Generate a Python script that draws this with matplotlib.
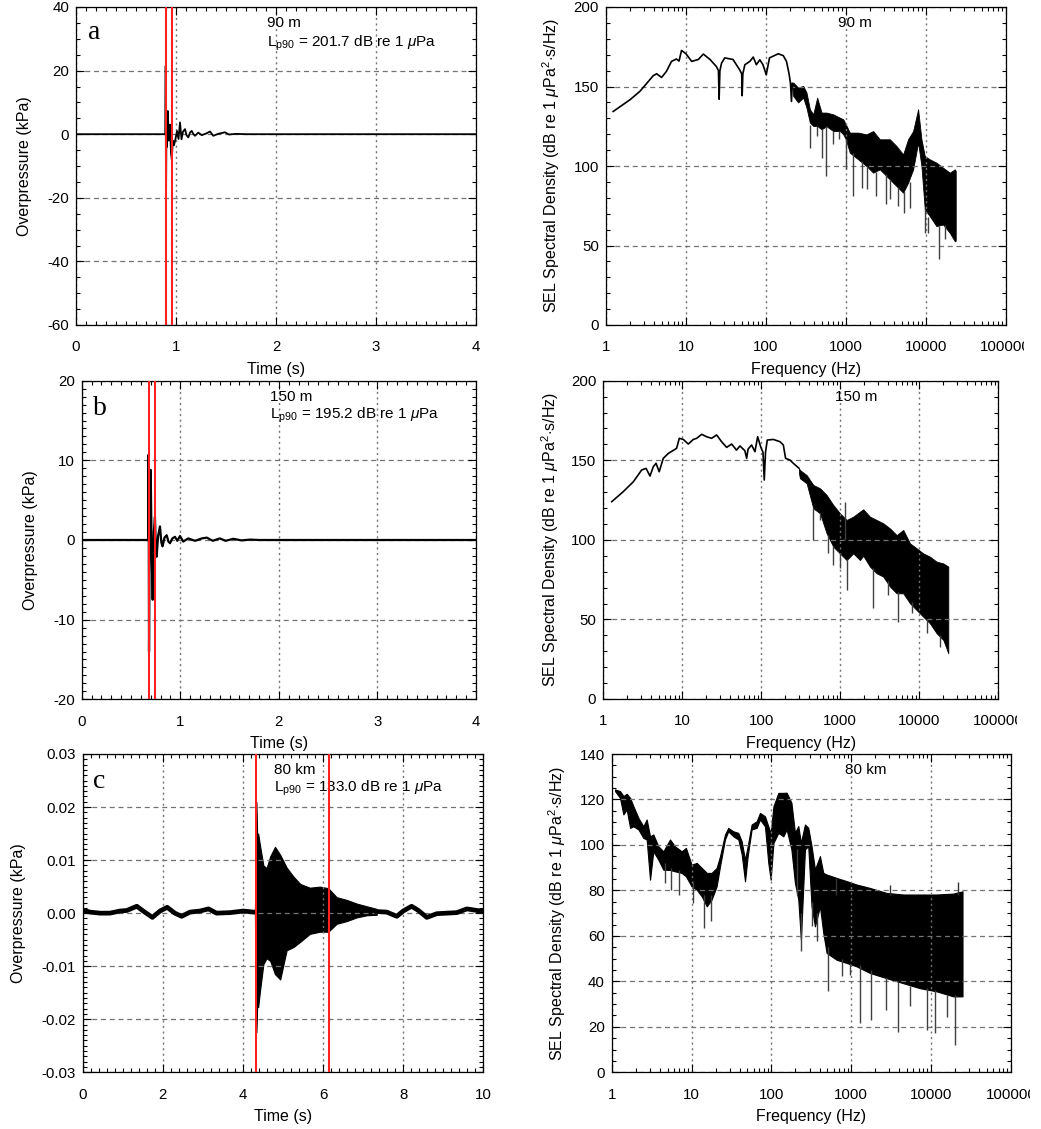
import numpy as np
import matplotlib
matplotlib.use("Agg")
import matplotlib.pyplot as plt
from matplotlib.ticker import MultipleLocator, FixedLocator, LogLocator, NullFormatter, FuncFormatter, FormatStrFormatter
from matplotlib.transforms import Bbox

plt.rcParams['font.family'] = ['Liberation Sans', 'DejaVu Sans']
plt.rcParams['font.size'] = 11
plt.rcParams['axes.unicode_minus'] = False
plt.rcParams['mathtext.fontset'] = 'custom'
plt.rcParams['mathtext.rm'] = 'Liberation Sans'
plt.rcParams['mathtext.it'] = 'Liberation Sans:italic'
plt.rcParams['mathtext.bf'] = 'Liberation Sans:bold'

# ---------------- data: waveforms ----------------
# (a) 90 m, overpressure in kPa
wa_t = [0.0, 0.893, 0.897, 0.900, 0.905, 0.910, 0.918, 0.928, 0.940, 0.950, 0.958, 0.968,
        0.980, 0.995, 1.010, 1.025, 1.040, 1.055, 1.070, 1.090, 1.105, 1.123, 1.140, 1.157,
        1.175, 1.190, 1.223, 1.257, 1.300, 1.340, 1.373, 1.420, 1.490, 1.530, 1.600, 1.700, 4.0]
wa_p = [0.0, 0.0, 21.5, -23.0, 5.0, -4.0, 7.3, -2.0, 3.0, -6.0, -7.9, -2.0,
        -3.5, -1.5, 1.0, -1.5, 3.7, -1.6, 0.8, 1.6, -0.3, -1.0, 0.5, 1.05,
        0.0, -0.5, 0.5, -0.3, 0.2, 0.84, -0.5, 0.1, 0.6, -0.1, 0.1, 0.0, 0.0]
wa_red = [0.897, 0.957]

# (b) 150 m
wb_t = [0.0, 0.675, 0.679, 0.683, 0.690, 0.700, 0.710, 0.720, 0.732, 0.743, 0.752, 0.760,
        0.775, 0.794, 0.808, 0.820, 0.840, 0.862, 0.880, 0.896, 0.920, 0.946, 0.970, 0.997,
        1.030, 1.080, 1.150, 1.220, 1.268, 1.330, 1.400, 1.460, 1.538, 1.620, 1.710, 1.800, 4.0]
wb_p = [0.0, 0.0, 10.7, -14.0, 3.0, 8.8, -2.0, -7.5, 1.0, 2.9, -1.0, -2.1,
        0.5, 1.7, -0.3, -0.8, 0.3, 0.6, -0.2, -0.4, 0.2, 0.4, -0.1, 0.5,
        -0.2, 0.2, -0.1, 0.2, 0.3, -0.1, 0.2, -0.1, 0.15, -0.05, 0.05, 0.0, 0.0]
wb_red = [0.68, 0.743]

# (c) 80 km : quiet baseline before / after, burst envelope
wc_t1 = [0.0, 0.18, 0.43, 0.68, 0.93, 1.10, 1.35, 1.51, 1.74, 1.93, 2.11, 2.30, 2.47,
         2.68, 2.93, 3.14, 3.34, 3.68, 4.01, 4.26, 4.30]
wc_p1 = [0.0006, 0.0002, 0.0, 0.0, 0.0004, 0.0005, 0.0013, 0.0004, -0.0008, 0.0004, 0.0011,
         0.0, -0.0006, 0.0002, 0.0004, 0.0008, 0.0, 0.0001, 0.0004, 0.0002, 0.0002]
wc_tb = [4.30, 4.33, 4.345, 4.36, 4.38, 4.42, 4.51, 4.59, 4.68, 4.80, 4.93, 5.09, 5.26,
         5.43, 5.67, 5.92, 6.13, 6.34, 6.59, 6.84, 7.09, 7.34]
wc_up = [0.0005, 0.021, 0.018, 0.013, 0.015, 0.013, 0.009, 0.0085, 0.0107, 0.0125, 0.011,
         0.0086, 0.0069, 0.0055, 0.0048, 0.0050, 0.0047, 0.0030, 0.0025, 0.0018, 0.0013, 0.0008]
wc_lo = [-0.0005, -0.0225, -0.020, -0.016, -0.0177, -0.0150, -0.0096, -0.0085, -0.0090, -0.0115,
         -0.0125, -0.0070, -0.0064, -0.0054, -0.0039, -0.0035, -0.0035, -0.0020, -0.0015,
         -0.0008, -0.0004, -0.0003]
wc_t2 = [7.34, 7.59, 7.84, 8.00, 8.21, 8.38, 8.59, 8.84, 9.09, 9.34, 9.59, 9.76, 10.0]
wc_p2 = [0.0003, 0.0002, -0.0006, 0.0004, 0.0013, 0.0005, -0.0008, -0.0001, 0.0, 0.0001,
         0.0008, 0.0006, 0.0003]
wc_red = [4.32, 6.14]

# ---------------- data: spectra (dB re 1 uPa^2 s/Hz) ----------------
# (a) smooth low-frequency part
sa_f = [1.23, 2.0, 2.66, 3.9, 4.3, 4.96, 5.7, 6.6, 7.6, 8.2, 8.8, 10, 11.8, 14.3, 16.5, 20,
        24, 25.5, 26, 26.6, 27.9, 30.6, 38.8, 47, 49.8, 50.5, 51.5, 54.6, 63, 69.5, 76, 84,
        92, 101, 111, 143, 165, 181, 195, 203, 209, 214]
sa_v = [134.3, 141.7, 147, 156.8, 158, 155.7, 159.5, 165.8, 167.3, 166, 172.7, 170.6, 165.8,
        167, 170.4, 167, 162.6, 160, 142, 160, 164.7, 168, 167, 160.5, 158, 144.2, 158, 163.7,
        165.8, 168.5, 163.7, 166.8, 163.7, 157.4, 168, 170.6, 169.4, 165.8, 158, 152, 140.6, 152]
# (a) noisy part: upper / lower envelope
sa_ef = [214, 220, 253, 293, 322, 355, 391, 438, 497, 573, 695, 842, 927, 1000, 1122, 1426,
         1811, 2197, 2661, 3548, 4300, 5210, 6010, 6950, 8020, 8830, 9720, 11220, 13590,
         16480, 19950, 23070, 23700]
sa_eu = [152, 152.5, 149.3, 150.4, 146.2, 135.7, 132.5, 143, 133.6, 133.6, 132.5, 130.4,
         129.4, 126.2, 121, 121, 119.9, 122, 116.8, 116.8, 112.6, 107.3, 116.8, 122, 135.7,
         116.8, 106.3, 104.2, 102.1, 98.9, 95.8, 97.9, 97]
sa_el = [150, 144, 140, 143, 136.7, 127.3, 125.2, 125.2, 123.1, 125, 122, 122, 120, 116.8,
         108.4, 104.2, 100, 95.8, 97.9, 91.6, 87.4, 83.2, 89.5, 97.9, 114.7, 100, 72.7, 68.5,
         62.2, 63.2, 58, 52.7, 53]
sa_sf = [361, 438, 497, 573, 695, 810, 1000, 1236, 1572, 1849, 2371, 3162, 3548, 4506, 5309,
         6310, 9720, 10690, 14550, 17290]
sa_sb = [111.5, 118.9, 105.2, 93.7, 113.6, 116.8, 97.9, 81, 86.3, 85.3, 81, 75.8, 79, 74.8,
         70.6, 73.7, 58, 58, 41.2, 53.8]
sa_st = [126, 125, 123, 125, 122, 122, 117, 108, 103, 100, 96, 95, 92, 87, 84, 90, 73, 68,
         62, 63]

# (b)
sb_f = [1.28, 1.79, 2.4, 3.06, 3.48, 3.9, 4.3, 4.65, 5.1, 5.74, 6.65, 8.47, 9.16, 10.3, 11.9,
        13.8, 15.2, 17.6, 20.3, 23.5, 27.2, 31.4, 36.4, 42.1, 48.6, 53.7, 62, 65.2, 68, 75.4,
        83.1, 89.9, 98.2, 105, 109, 113, 119, 142, 172, 190, 203, 231, 254, 300]
sb_v = [124, 130.3, 136.5, 143.9, 144.9, 140.1, 146, 148.1, 142.8, 151.2, 154.3, 157.5, 163.8,
        163.1, 160.2, 163.1, 163.8, 166.3, 164.8, 163.8, 165.9, 161.7, 158.1, 160.2, 156.4, 159,
        156, 151.2, 157, 159.6, 155.4, 164.8, 158.5, 155, 137.6, 155, 162.7, 163.1, 161.7,
        159.6, 151.2, 150.1, 148.1, 145]
sb_ef = [300, 308, 375, 455, 553, 671, 815, 990, 1202, 1459, 1773, 1953, 2371, 2882, 3498,
         4253, 5164, 6266, 7621, 9247, 11220, 13650, 16560, 20140, 23290]
sb_eu = [145, 143.9, 140.7, 134.5, 132.4, 128.2, 121.9, 116.7, 112.5, 114.6, 117.7, 119.2,
         114.6, 112.5, 110.4, 107.2, 103, 106.2, 97.8, 94.7, 91.5, 89.4, 86.3, 85.2, 83.2]
sb_el = [142, 138.7, 135.5, 119.8, 116.7, 104.1, 95.7, 91.5, 87.3, 91.5, 87.3, 90, 83.2, 79,
         76.9, 70.6, 66.4, 66.4, 60.1, 55.9, 51.7, 47.5, 41.3, 37.1, 28.7]
sb_sf = [455, 553, 705, 800, 990, 1228, 2565, 4047, 5420, 8000, 12390, 18250]
sb_sb = [99.9, 112.5, 91.5, 84.2, 82.1, 68.5, 57, 65.4, 48.6, 53.8, 41.3, 32.9]
sb_st = [120, 117, 103, 96, 92, 88, 82, 74, 67, 61, 50, 40]
sb_uf = [1160]
sb_uv = [124]

# (c) whole spectrum is noisy
sc_f = [1.1, 1.27, 1.4, 1.54, 1.7, 1.87, 2.16, 2.49, 2.74, 3.02, 3.32, 3.84, 4.43, 5.37, 6.2,
        7.52, 8.5, 10, 11.6, 13.4, 15.5, 17.8, 20.6, 22.7, 26.2, 28.8, 33.3, 38.5, 42.4, 46.7,
        50.4, 56.5, 65.3, 71.9, 83, 91.4, 97.8, 106, 122, 141, 155, 178, 197, 217, 234, 263,
        289, 318, 351, 405, 446, 491, 655, 873, 1164, 1710, 2768, 4470, 7230, 11700, 18900,
        24700]
sc_u = [124.4, 123.7, 121.5, 122.5, 120.7, 117, 111.9, 108.2, 111.2, 103.8, 104.6, 99.4, 97.2,
        102.4, 99.4, 97.2, 98.7, 91.3, 92.1, 89.9, 87.7, 87.7, 89.9, 95, 104.6, 107.5, 106,
        105.3, 101.6, 93.5, 99.4, 109, 110.4, 114.1, 112.6, 108.2, 105.3, 117, 122.9, 122.9,
        123, 118.6, 105.4, 108.3, 101, 109, 107.6, 99.5, 89.2, 95.1, 87.7, 87, 85.5, 84.1,
        82.6, 81.1, 78.9, 78.2, 78.2, 78.2, 78.6, 79.6]
sc_l = [123.7, 120.7, 113.4, 115.6, 107.5, 108.2, 106.8, 103.1, 102.4, 84.7, 97.2, 93.5, 89.1,
        89, 88.4, 87.7, 86.2, 81.8, 80.3, 77.4, 73, 75.9, 81.8, 90.6, 102.4, 106, 103.8,
        102.4, 96, 84, 95, 106.8, 107.5, 111.2, 108.2, 92.1, 84.7, 100.9, 105.3, 103.8, 106.8,
        98, 83.3, 76, 58.3, 98, 99.5, 73, 64.2, 73, 61.3, 52.5, 49.5, 48.1, 46.6, 43.7, 41.4,
        39.2, 37, 35.6, 33.4, 33.4]
sc_sf = [4.6, 5.6, 7.0, 10.4, 14.3, 17.5, 209, 234, 325, 370, 515, 755, 960, 1282, 1742, 2710,
         3863, 5400, 8750, 11120, 15600, 19800]
sc_sb = [83.3, 80.3, 78.1, 74.4, 63.4, 66.4, 78.2, 53.2, 64.2, 57.6, 35.6, 42.2, 42.9, 21.6,
         23.1, 27.5, 17.9, 29, 18.7, 17.2, 24.5, 12.1]
sc_st = [92, 90, 89, 84, 78, 78, 98, 70, 75, 70, 55, 50, 48, 47, 45, 42, 40, 38, 37, 36, 34,
         34]
sc_uf = [653, 3040, 21400]
sc_uv = [85.5, 82.6, 83.6]

dist_labels = ["90 m", "150 m", "80 km"]
lp90_values = ["201.7", "195.2", "133.0"]
panel_letters = ["a", "b", "c"]

# ---------------- figure ----------------
W, H = 1041, 1129
fig = plt.figure(figsize=(W / 100, H / 100), dpi=100)

def frac(l, r, t, b):
    return [l / W, 1 - b / H, (r - l) / W, (b - t) / H]

boxes_left = [frac(76, 476, 7, 325), frac(81.7, 476, 380.7, 699.3), frac(82.7, 483.3, 754, 1072.3)]
boxes_right = [frac(606, 1005.7, 7, 325), frac(603.3, 998.3, 380.7, 699), frac(611.7, 1011, 754, 1072.3)]

GRIDC = '0.45'
LABEL_FS = 11.5
TICK_FS = 10.8

def style(ax):
    ax.tick_params(which='both', direction='in', top=True, right=True, width=0.8,
                   labelsize=TICK_FS)
    ax.tick_params(which='major', length=6)
    ax.tick_params(which='minor', length=3)
    ax.tick_params(axis='x', which='major', pad=11)
    ax.tick_params(axis='y', which='major', pad=5)
    for s in ax.spines.values():
        s.set_linewidth(0.9)
    ax.grid(axis='x', which='major', ls=(0, (1.5, 2.5)), color=GRIDC, lw=1.0)
    ax.grid(axis='y', which='major', ls=(0, (4, 3)), color=GRIDC, lw=0.9)

def set_labels(ax, xl, yl, ylx):
    ax.set_xlabel(xl, fontsize=LABEL_FS)
    ax.set_ylabel(yl, fontsize=LABEL_FS)
    ax.xaxis.label.set_va('center')
    ax.yaxis.label.set_va('center')
    ax.xaxis.set_label_coords(0.5, -0.14)
    ax.yaxis.set_label_coords(ylx, 0.5)

ylab_left_x = [-0.1275, -0.129, -0.161]
ylab_right_x = [-0.138, -0.135, -0.136]
letter_pos = [(0.03, 0.92), (0.028, 0.914), (0.025, 0.913)]
lp_y = [0.887, 0.892, 0.892]
right_title_x = [0.58, 0.587, 0.584]

waves = [(wa_t, wa_p, wa_red), (wb_t, wb_p, wb_red)]
for i in range(3):
    ax = fig.add_axes(boxes_left[i])
    style(ax)
    if i < 2:
        t, p, red = waves[i]
        ax.plot(t, p, color='black', lw=1.3 if i == 0 else 1.6)
        ax.set_xlim(0, 4)
        ax.xaxis.set_major_locator(MultipleLocator(1))
        ax.xaxis.set_minor_locator(MultipleLocator(0.1))
        if i == 0:
            ax.set_ylim(-60, 40)
            ax.yaxis.set_major_locator(MultipleLocator(20))
            ax.yaxis.set_minor_locator(MultipleLocator(5))
        else:
            ax.set_ylim(-20, 20)
            ax.yaxis.set_major_locator(MultipleLocator(10))
            ax.yaxis.set_minor_locator(MultipleLocator(1))
        ax.yaxis.set_major_formatter(FormatStrFormatter('%d'))
    else:
        red = wc_red
        ax.plot(wc_t1, wc_p1, color='black', lw=3.4, solid_joinstyle='round')
        ax.plot(wc_t2, wc_p2, color='black', lw=3.4, solid_joinstyle='round')
        ax.fill_between(wc_tb, wc_lo, wc_up, color='black', lw=0.8)
        ax.set_xlim(0, 10)
        ax.set_ylim(-0.03, 0.03)
        ax.xaxis.set_major_locator(MultipleLocator(2))
        ax.xaxis.set_minor_locator(MultipleLocator(0.2))
        ax.yaxis.set_major_locator(MultipleLocator(0.01))
        ax.yaxis.set_minor_locator(MultipleLocator(0.001))
        ax.yaxis.set_major_formatter(FormatStrFormatter('%.2f'))
    for x in red:
        ax.axvline(x, color='#ff2020', lw=1.5, zorder=5)
    set_labels(ax, 'Time (s)', 'Overpressure (kPa)', ylab_left_x[i])
    ax.text(letter_pos[i][0], letter_pos[i][1], panel_letters[i], transform=ax.transAxes,
            family=['Liberation Serif', 'DejaVu Serif'], fontsize=20, ha='left', va='center')
    ax.text(0.477, 0.95, dist_labels[i], transform=ax.transAxes, ha='left', va='center',
            fontsize=11)
    ax.text(0.477, lp_y[i], r'L$_{\rm p90}$ = ' + lp90_values[i] + r' dB re 1 $\mu$Pa',
            transform=ax.transAxes, ha='left', va='center', fontsize=11)

spectra = [
    (sa_f, sa_v, sa_ef, sa_eu, sa_el, sa_sf, sa_sb, sa_st),
    (sb_f, sb_v, sb_ef, sb_eu, sb_el, sb_sf, sb_sb, sb_st),
]
right_axes = []
for i in range(3):
    ax = fig.add_axes(boxes_right[i])
    right_axes.append(ax)
    style(ax)
    ax.set_xscale('log')
    ax.set_xlim(1, 1e5)
    if i < 2:
        f, v, ef, eu, el, sf, sb, st = spectra[i]
        ax.plot(f, v, color='black', lw=1.2)
        ax.fill_between(ef, el, eu, color='black', lw=0.6)
        ax.vlines(sf, sb, st, color='0.25', lw=1.0)
        if i == 1:
            ax.vlines(sb_uf, [100], sb_uv, color='0.25', lw=1.0)
        ax.set_ylim(0, 200)
        ax.yaxis.set_major_locator(MultipleLocator(50))
        ax.yaxis.set_minor_locator(MultipleLocator(10))
    else:
        ax.fill_between(sc_f, sc_l, sc_u, color='black', lw=0.8)
        ax.vlines(sc_sf, sc_sb, sc_st, color='0.25', lw=1.0)
        ax.vlines(sc_uf, [78, 78, 78], sc_uv, color='0.2', lw=1.0)
        ax.set_ylim(0, 140)
        ax.yaxis.set_major_locator(MultipleLocator(20))
        ax.yaxis.set_minor_locator(MultipleLocator(5))
    ax.xaxis.set_major_locator(FixedLocator([1, 10, 100, 1000, 10000, 100000]))
    ax.xaxis.set_major_formatter(FuncFormatter(lambda x, pos: '%d' % round(x)))
    ax.xaxis.set_minor_locator(LogLocator(base=10, subs=np.arange(2, 10), numticks=20))
    ax.xaxis.set_minor_formatter(NullFormatter())
    set_labels(ax, 'Frequency (Hz)', r'SEL Spectral Density (dB re 1 $\mu$Pa$^2$$\cdot$s/Hz)',
               ylab_right_x[i])
    ax.text(right_title_x[i], 0.95, dist_labels[i], transform=ax.transAxes, ha='left',
            va='center', fontsize=11)

# the last frequency label is cut at the right edge in the original
fig.canvas.draw()
clip_x = [1024, 1017, 1030]
for ax, cx in zip(right_axes, clip_x):
    for tk in ax.xaxis.get_major_ticks():
        tk.label1.set_clip_box(Bbox([[0, 0], [cx, H]]))
        tk.label1.set_clip_on(True)

fig.savefig('out.png', dpi=100)
